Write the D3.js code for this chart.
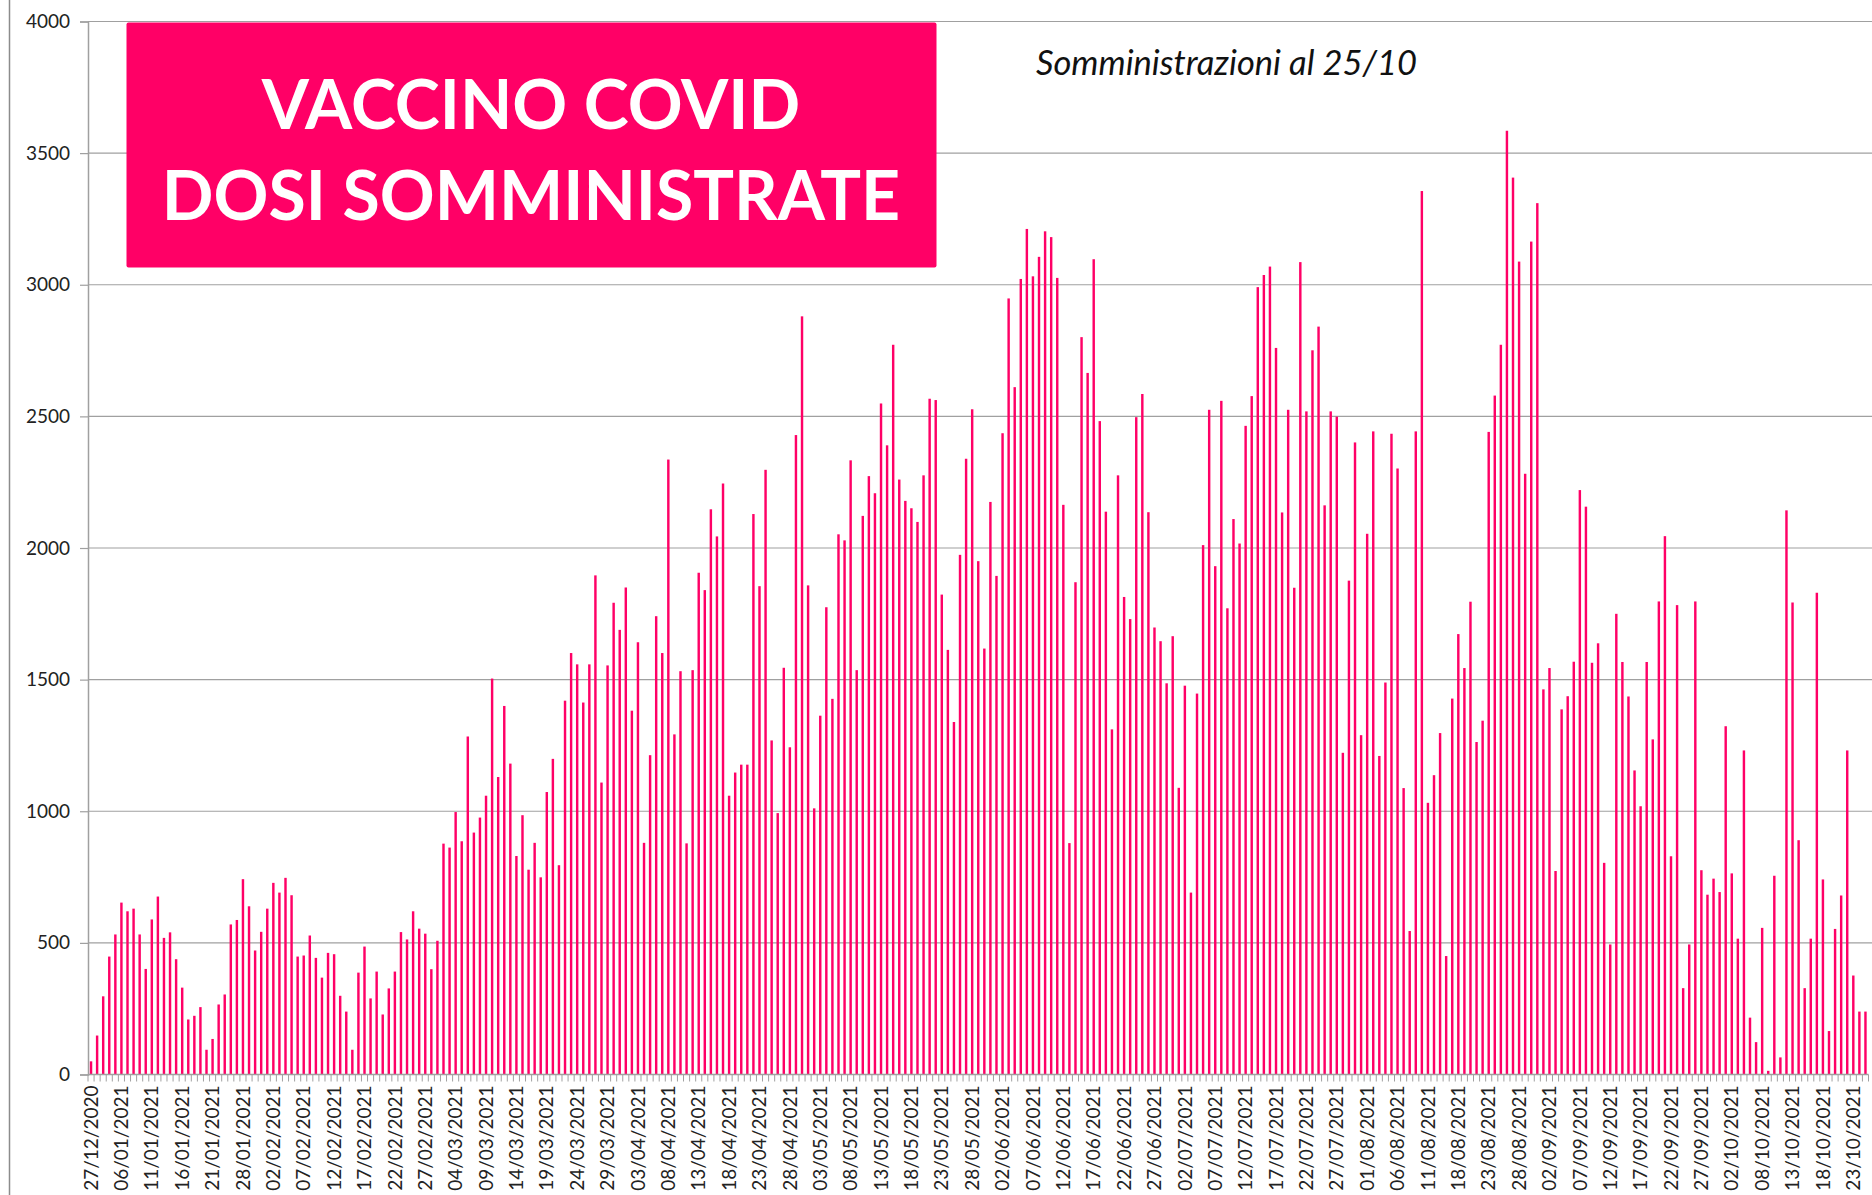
<!DOCTYPE html>
<html>
<head>
<meta charset="utf-8">
<script src="https://cdn.jsdelivr.net/npm/d3@7"></script>
<style>
  body { margin: 0; background: #fff; }
  svg { display: block; }
</style>
</head>
<body>
<svg id="chart"></svg>
<script>
// dosi giornaliere, una per giorno di somministrazione (27/12/2020 -> 25/10/2021)
const doses = [
  50, 148, 297, 448, 532, 653, 620, 630, 532, 401, 589, 676, 519, 540, 438, 330, 209, 223, 256, 94, 135, 266, 304,
  570, 587, 742, 639, 471, 542, 630, 728, 691, 747, 681, 448, 452, 528, 443, 368, 462, 457, 299, 239, 94, 387, 486, 289, 391,
  228, 327, 391, 541, 513, 620, 554, 535, 400, 508, 877, 862, 997, 886, 1284, 919, 976, 1059, 1504, 1130, 1400, 1181, 830, 985, 778,
  880, 749, 1073, 1199, 795, 1420, 1601, 1558, 1413, 1558, 1896, 1109, 1554, 1792, 1689, 1850, 1382, 1642, 880, 1213, 1741, 1601, 2336, 1292,
  1532, 878, 1536, 1906, 1840, 2147, 2044, 2245, 1059, 1147, 1177, 1177, 2129, 1855, 2297, 1269, 993, 1545, 1243, 2429, 2880, 1858, 1011, 1363, 1775,
  1427, 2052, 2029, 2333, 1536, 2122, 2273, 2208, 2549, 2390, 2772, 2260, 2179, 2151, 2099, 2276, 2567, 2562, 1823, 1613, 1339, 1974, 2339, 2527, 1950,
  1618, 2175, 1894, 2436, 2948, 2611, 3022, 3212, 3032, 3106, 3203, 3181, 3026, 2164, 879, 1870, 2801, 2665, 3097, 2482, 2138, 1311, 2276, 1814,
  1730, 2497, 2585, 2136, 1698, 1646, 1486, 1665, 1089, 1477, 691, 1447, 2011, 2525, 1931, 2559, 1771, 2110, 2017, 2464, 2577, 2991, 3037, 3069, 2760,
  2135, 2525, 1849, 3086, 2519, 2751, 2841, 2162, 2519, 2499, 1222, 1876, 2401, 1289, 2054, 2443, 1210, 1489, 2434, 2302, 1088, 545, 2443, 3356, 1032,
  1137, 1297, 450, 1428, 1673, 1544, 1796, 1263, 1344, 2441, 2579, 2772, 3585, 3407, 3088, 2282, 3164, 3310, 1463, 1544, 773, 1387, 1437, 1568,
  2220, 2157, 1564, 1638, 804, 494, 1750, 1567, 1436, 1155, 1019, 1567, 1273, 1797, 2045, 829, 1783, 328, 494, 1797, 776, 683, 744, 693, 1323,
  764, 516, 1231, 216, 123, 557, 14, 755, 65, 2143, 1793, 890, 328, 516, 1830, 741, 165, 553, 680, 1231, 376, 239, 239
];

// etichette asse x (una ogni 5 giorni di dati)
const tickLabels = [
  "27/12/2020", "06/01/2021", "11/01/2021", "16/01/2021", "21/01/2021", "28/01/2021", "02/02/2021", "07/02/2021",
  "12/02/2021", "17/02/2021", "22/02/2021", "27/02/2021", "04/03/2021", "09/03/2021", "14/03/2021", "19/03/2021",
  "24/03/2021", "29/03/2021", "03/04/2021", "08/04/2021", "13/04/2021", "18/04/2021", "23/04/2021", "28/04/2021",
  "03/05/2021", "08/05/2021", "13/05/2021", "18/05/2021", "23/05/2021", "28/05/2021", "02/06/2021", "07/06/2021",
  "12/06/2021", "17/06/2021", "22/06/2021", "27/06/2021", "02/07/2021", "07/07/2021", "12/07/2021", "17/07/2021",
  "22/07/2021", "27/07/2021", "01/08/2021", "06/08/2021", "11/08/2021", "18/08/2021", "23/08/2021", "28/08/2021",
  "02/09/2021", "07/09/2021", "12/09/2021", "17/09/2021", "22/09/2021", "27/09/2021", "02/10/2021", "08/10/2021",
  "13/10/2021", "18/10/2021", "23/10/2021"
];
const labelStep = 5;

const yTicks = [0, 500, 1000, 1500, 2000, 2500, 3000, 3500, 4000];

const titleLines = ["VACCINO COVID", "DOSI SOMMINISTRATE"];
const subtitle = "Somministrazioni al 25/10";

//dimensioni
const w = 1872;
const h = 1195;
const plotLeft = 88;
const plotRight = 1868.5;
const plotTop = 21.5;
const plotBottom = 1074.5;

const barColor = "#ff0066";
const gridColor = "#a0a0a0";
const axisFont = "Lato, 'Liberation Sans', sans-serif";

let svg = d3.select("#chart")
  .attr("width", w)
  .attr("height", h);

let xScale = d3.scaleBand()
  .domain(d3.range(doses.length))
  .range([plotLeft, plotRight])
  .paddingInner(0.6)
  .paddingOuter(0.3);

let yScale = d3.scaleLinear()
  .domain([0, 4000])
  .range([plotBottom, plotTop]);

// bordo sinistro dell'area grafico
svg.append("line")
  .attr("x1", 9.5).attr("x2", 9.5)
  .attr("y1", 0).attr("y2", h)
  .attr("stroke", "#8c8c8c")
  .attr("stroke-width", 1.5);

// griglia orizzontale
svg.append("g")
  .selectAll("line")
  .data(yTicks.filter(d => d > 0))
  .enter()
  .append("line")
  .attr("x1", plotLeft)
  .attr("x2", w)
  .attr("y1", d => yScale(d))
  .attr("y2", d => yScale(d))
  .attr("stroke", gridColor)
  .attr("stroke-width", 1.2);

// asse y
let yAxis = d3.axisLeft(yScale)
  .tickValues(yTicks)
  .tickSize(8)
  .tickPadding(10)
  .tickFormat(d3.format("d"));
let gy = svg.append("g")
  .attr("transform", "translate(" + plotLeft + ",0)")
  .call(yAxis);
gy.select(".domain").attr("stroke", gridColor).attr("stroke-width", 1.5);
gy.selectAll(".tick line").attr("stroke", gridColor).attr("stroke-width", 1.2);
gy.selectAll(".tick text")
  .attr("fill", "#222")
  .style("font-family", axisFont)
  .style("font-size", "19px");

// barre
svg.append("g")
  .selectAll("rect")
  .data(doses)
  .enter()
  .append("rect")
  .attr("x", (d, i) => xScale(i))
  .attr("width", xScale.bandwidth())
  .attr("y", d => yScale(d))
  .attr("height", d => plotBottom - yScale(d))
  .attr("fill", barColor);

// asse x: una tacca per ogni categoria, etichetta ogni 5
let step = xScale.step();
let gx = svg.append("g");
gx.append("line")
  .attr("x1", plotLeft).attr("x2", plotRight)
  .attr("y1", plotBottom).attr("y2", plotBottom)
  .attr("stroke", gridColor)
  .attr("stroke-width", 1.5);
gx.selectAll(".tk")
  .data(d3.range(doses.length + 1))
  .enter()
  .append("line")
  .attr("class", "tk")
  .attr("x1", i => plotLeft + i * step)
  .attr("x2", i => plotLeft + i * step)
  .attr("y1", plotBottom)
  .attr("y2", plotBottom + 7)
  .attr("stroke", gridColor)
  .attr("stroke-width", 1);

gx.selectAll(".lbl")
  .data(tickLabels)
  .enter()
  .append("text")
  .attr("class", "lbl")
  .attr("transform", (d, k) => {
    let cx = xScale(k * labelStep) + xScale.bandwidth() / 2;
    return "translate(" + cx + "," + (plotBottom + 11) + ") rotate(-90)";
  })
  .attr("text-anchor", "end")
  .attr("dy", "0.35em")
  .attr("fill", "#222")
  .style("font-family", axisFont)
  .style("font-size", "19px")
  .text(d => d);

// riquadro titolo
svg.append("rect")
  .attr("x", 126.5)
  .attr("y", 22.5)
  .attr("width", 810)
  .attr("height", 245)
  .attr("rx", 2)
  .attr("fill", barColor);

svg.selectAll(".title")
  .data(titleLines)
  .enter()
  .append("text")
  .attr("class", "title")
  .attr("x", 531)
  .attr("y", (d, i) => 129 + i * 91)
  .attr("text-anchor", "middle")
  .attr("fill", "#fff")
  .style("font-family", "Lato, 'Open Sans', sans-serif")
  .style("font-weight", "bold")
  .style("font-size", "68px")
  .text(d => d);

svg.append("text")
  .attr("x", 1036)
  .attr("y", 75)
  .attr("fill", "#111")
  .style("font-family", "Lato, 'Open Sans', sans-serif")
  .style("font-style", "italic")
  .style("font-size", "34.5px")
  .text(subtitle);
</script>
</body>
</html>
